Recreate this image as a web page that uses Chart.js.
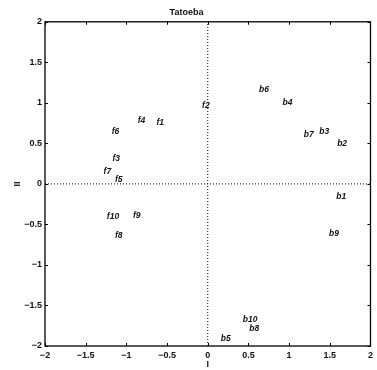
<!DOCTYPE html>
<html>
<head>
<meta charset="utf-8">
<script src="https://cdn.jsdelivr.net/npm/chart.js@4/dist/chart.umd.min.js"></script>
<style>
html,body{margin:0;padding:0;background:#fff;}
#wrap{width:377px;height:370px;}
</style>
</head>
<body>
<div id="wrap"><canvas id="c" width="377" height="370"></canvas></div>
<script>
const pointLabels = ['f1','f2','f3','f4','f5','f6','f7','f8','f9','f10',
                     'b1','b2','b3','b4','b5','b6','b7','b8','b9','b10'];
const xValues = [-0.63,-0.07,-1.17,-0.86,-1.14,-1.18,-1.28,-1.14,-0.92,-1.24,
                  1.58, 1.59, 1.37, 0.92, 0.16, 0.63, 1.18, 0.51, 1.49, 0.43];
const yValues = [ 0.75, 0.96, 0.31, 0.785, 0.05, 0.65, 0.15,-0.64,-0.39,-0.40,
                 -0.16, 0.50, 0.65, 1.00,-1.91, 1.16, 0.61,-1.79,-0.61,-1.67];
const axisRange = [-2, 2];
const tickStep = 0.5;
const titleText = 'Tatoeba';
const xTitle = 'I';
const yTitle = 'II';

const FONT = '"Liberation Sans", Arial, sans-serif';
const pts = xValues.map((x, i) => ({x: x, y: yValues[i]}));

function fmt(v){
  const s = String(Math.round(v*10)/10);
  return s.replace('-', '\u2212');
}

const textPlugin = {
  id: 'textLabels',
  afterDatasetsDraw(chart){
    const ctx = chart.ctx;
    const meta = chart.getDatasetMeta(0);
    ctx.save();
    ctx.fillStyle = '#111';
    ctx.font = 'italic bold 8.5px ' + FONT;
    ctx.textAlign = 'left';
    ctx.textBaseline = 'middle';
    meta.data.forEach((el, i) => {
      ctx.fillText(pointLabels[i], el.x, el.y);
    });
    ctx.restore();
  }
};

const boxPlugin = {
  id: 'boxTicks',
  afterDraw(chart){
    const ctx = chart.ctx;
    const a = chart.chartArea;
    const xs = chart.scales.x, ys = chart.scales.y;
    ctx.save();
    ctx.strokeStyle = '#000';
    ctx.lineWidth = 1.3;
    ctx.strokeRect(a.left, a.top, a.right - a.left, a.bottom - a.top);
    ctx.lineWidth = 1;
    const L = 3;
    ctx.beginPath();
    xs.ticks.forEach(t => {
      const px = Math.round(xs.getPixelForValue(t.value)) + 0.5;
      ctx.moveTo(px, a.bottom); ctx.lineTo(px, a.bottom - L);
      ctx.moveTo(px, a.top); ctx.lineTo(px, a.top + L);
    });
    ys.ticks.forEach(t => {
      const py = Math.round(ys.getPixelForValue(t.value)) + 0.5;
      ctx.moveTo(a.left, py); ctx.lineTo(a.left + L, py);
      ctx.moveTo(a.right, py); ctx.lineTo(a.right - L, py);
    });
    ctx.stroke();
    ctx.restore();
  }
};

new Chart(document.getElementById('c'), {
  type: 'scatter',
  data: {
    datasets: [
      {
        data: pts,
        pointRadius: 0,
        pointHoverRadius: 0,
        showLine: false
      },
      {
        type: 'line',
        data: axisRange.map(v => ({x: 0, y: v})),
        borderColor: '#000',
        borderWidth: 1,
        borderDash: [1, 2],
        pointRadius: 0,
        fill: false
      },
      {
        type: 'line',
        data: axisRange.map(v => ({x: v, y: 0})),
        borderColor: '#000',
        borderWidth: 1,
        borderDash: [1, 2],
        pointRadius: 0,
        fill: false
      }
    ]
  },
  options: {
    responsive: false,
    animation: false,
    events: [],
    layout: {padding: {top: 0, right: 4, left: 0, bottom: 0}},
    plugins: {
      legend: {display: false},
      tooltip: {enabled: false},
      title: {
        display: true,
        text: titleText,
        color: '#111',
        font: {family: FONT, size: 9, weight: 'bold'},
        padding: {top: 7, bottom: 4}
      }
    },
    scales: {
      x: {
        type: 'linear',
        min: axisRange[0], max: axisRange[1],
        afterBuildTicks(s){
          const t = [];
          for (let v = axisRange[0]; v <= axisRange[1] + 1e-9; v += tickStep) t.push({value: Math.round(v*10)/10});
          s.ticks = t;
        },
        afterFit(s){ s.height = 24; },
        grid: {display: false, drawTicks: false},
        border: {display: false},
        ticks: {
          color: '#111',
          padding: 4,
          maxRotation: 0,
          autoSkip: false,
          font: {family: FONT, size: 9, weight: 'bold'},
          callback: v => fmt(v)
        },
        title: {
          display: true,
          text: xTitle,
          color: '#111',
          font: {family: FONT, size: 9, weight: 'bold'},
          padding: {top: 0, bottom: 0}
        }
      },
      y: {
        type: 'linear',
        min: axisRange[0], max: axisRange[1],
        afterBuildTicks(s){
          const t = [];
          for (let v = axisRange[0]; v <= axisRange[1] + 1e-9; v += tickStep) t.push({value: Math.round(v*10)/10});
          s.ticks = t;
        },
        afterFit(s){ s.width = 45; },
        grid: {display: false, drawTicks: false},
        border: {display: false},
        ticks: {
          color: '#111',
          padding: 3,
          autoSkip: false,
          font: {family: FONT, size: 9, weight: 'bold'},
          callback: v => fmt(v)
        },
        title: {
          display: true,
          text: yTitle,
          color: '#111',
          font: {family: FONT, size: 9, weight: 'bold'},
          padding: {top: 12, bottom: 0}
        }
      }
    }
  },
  plugins: [textPlugin, boxPlugin]
});
</script>
</body>
</html>
